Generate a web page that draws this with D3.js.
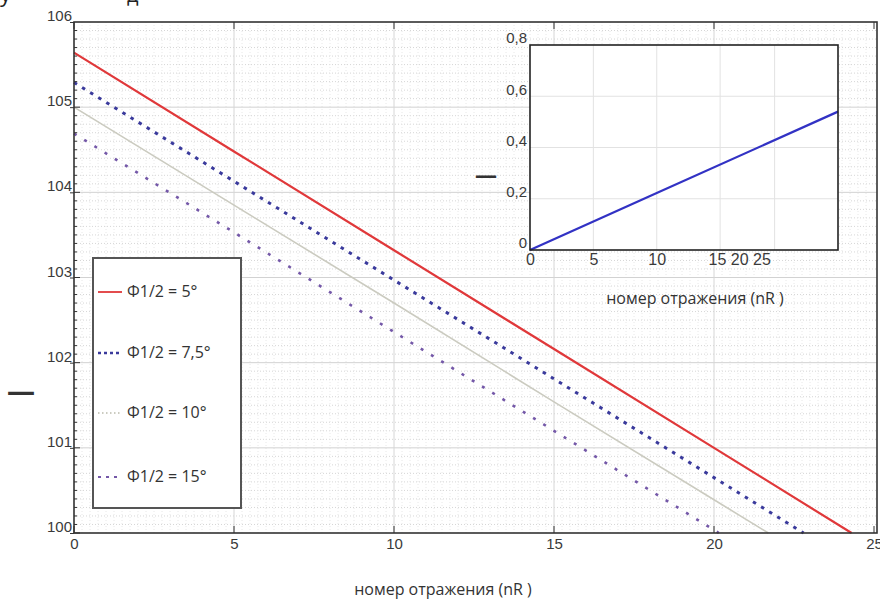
<!DOCTYPE html>
<html lang="ru">
<head>
<meta charset="UTF-8">
<title>номер отражения</title>
<script src="https://d3js.org/d3.v7.min.js"></script>
<style>
  body { margin: 0; background: #fff; font-family: "Open Sans", "Noto Sans", sans-serif; }
  svg { display: block; }
  .tick-label { font-size: 15px; fill: #3a3a3a; }
</style>
</head>
<body>
<div id="chart"></div>
<script>
// main chart data
const xTicks = [0, 5, 10, 15, 20, 25];
const yTicks = [100, 101, 102, 103, 104, 105, 106];
const seriesNames = ["Φ1/2 = 5°", "Φ1/2 = 7,5°", "Φ1/2 = 10°", "Φ1/2 = 15°"];
const nR5 = [0, 5, 10, 15, 20, 24.3];
const val5 = [105.64, 104.48, 103.32, 102.16, 101.0, 100.0];
const nR75 = [0, 5, 10, 15, 20, 22.8];
const val75 = [105.29, 104.13, 102.97, 101.81, 100.65, 100.0];
const nR10 = [0, 5, 10, 15, 20, 21.7];
const val10 = [105.0, 103.85, 102.70, 101.54, 100.39, 100.0];
const nR15 = [0, 5, 10, 15, 20.15];
const val15 = [104.69, 103.53, 102.36, 101.2, 100.0];

// inset data
const insetXTicks = [0, 5, 10, 15];
const insetXLabels = ["0", "5", "10", "15 20 25"];
const insetYTicks = [0, 0.2, 0.4, 0.6, 0.8];
const insetYLabels = ["0", "0,2", "0,4", "0,6", "0,8"];
const insetNR = [0, 10, 24.3];
const insetVal = [0, 0.222, 0.54];

const W = 880, H = 603;
const svg = d3.select("#chart").append("svg").attr("width", W).attr("height", H);

// clipped caption remains at the very top
svg.append("text").attr("x", 0).attr("y", 2).attr("font-size", 22).attr("fill", "#222").text("у");
svg.append("text").attr("x", 127).attr("y", 2).attr("font-size", 20).attr("fill", "#222").text("д");

const x = d3.scaleLinear().domain([0, 25]).range([74, 874]);
const y = d3.scaleLinear().domain([100, 106]).range([533, 22]);

// minor grid
const g = svg.append("g");
g.selectAll(".hmin").data(d3.range(1000, 1060).map(d => d / 10).filter(d => d % 1 !== 0))
  .join("line")
  .attr("x1", x(0)).attr("x2", 877)
  .attr("y1", d => y(d)).attr("y2", d => y(d))
  .attr("stroke", "#d6d6d6").attr("stroke-width", 1).attr("stroke-dasharray", "1,2");
g.selectAll(".vmin").data(d3.range(1, 100).map(d => d / 4).filter(d => d % 5 !== 0))
  .join("line")
  .attr("y1", y(106)).attr("y2", y(100))
  .attr("x1", d => x(d)).attr("x2", d => x(d))
  .attr("stroke", "#e8e8e8").attr("stroke-width", 1).attr("stroke-dasharray", "1,2");
// major grid
g.selectAll(".hmaj").data(yTicks.slice(1, -1)).join("line")
  .attr("x1", x(0)).attr("x2", 877)
  .attr("y1", d => y(d)).attr("y2", d => y(d))
  .attr("stroke", "#d2d2d2").attr("stroke-width", 1);
g.selectAll(".vmaj").data(xTicks.slice(1, -1)).join("line")
  .attr("y1", y(106)).attr("y2", y(100))
  .attr("x1", d => x(d)).attr("x2", d => x(d))
  .attr("stroke", "#d6d6d6").attr("stroke-width", 1);

// series lines
const styles = [
  { color: "#e0383a", width: 2.2, dash: null },
  { color: "#3a3a9c", width: 3, dash: "3.5,6" },
  { color: "#cbcbc0", width: 1.6, dash: null },
  { color: "#7458a8", width: 2.6, dash: "3,9" }
];
const series = [[nR5, val5], [nR75, val75], [nR10, val10], [nR15, val15]];
const line = d3.line().x(d => x(d[0])).y(d => y(d[1]));
series.forEach((s, i) => {
  svg.append("path")
    .datum(d3.zip(s[0], s[1]))
    .attr("d", line)
    .attr("fill", "none")
    .attr("stroke", styles[i].color)
    .attr("stroke-width", styles[i].width)
    .attr("stroke-dasharray", styles[i].dash);
});

// frame and axes
svg.append("rect").attr("x", x(0)).attr("y", y(106)).attr("width", 877 - x(0)).attr("height", y(100) - y(106))
  .attr("fill", "none").attr("stroke", "#333").attr("stroke-width", 1.6);

const yAxis = svg.append("g").attr("transform", `translate(${x(0)},0)`)
  .call(d3.axisLeft(y).tickValues(yTicks).tickSize(4).tickFormat(d3.format("d")));
yAxis.select(".domain").remove();
yAxis.selectAll("text").attr("class", "tick-label").attr("x", -2).attr("dy", "-0.1em");
yAxis.selectAll("line").attr("stroke", "#333");
// inner minor ticks
svg.append("g").selectAll("line").data(d3.range(1000, 1060).map(d => d / 10))
  .join("line")
  .attr("x1", x(0)).attr("x2", d => x(0) + (d % 1 === 0 ? 6 : 3))
  .attr("y1", d => y(d)).attr("y2", d => y(d))
  .attr("stroke", "#333").attr("stroke-width", 1);

const xAxis = svg.append("g").attr("transform", `translate(0,${y(100)})`)
  .call(d3.axisBottom(x).tickValues(xTicks).tickSize(0).tickPadding(5).tickFormat(d3.format("d")));
xAxis.select(".domain").remove();
xAxis.selectAll("text").attr("class", "tick-label");
// small ticks at top and bottom
svg.append("g").selectAll("line").data(xTicks).join("line")
  .attr("x1", d => x(d)).attr("x2", d => x(d))
  .attr("y1", y(100)).attr("y2", y(100) - 7).attr("stroke", "#333");
svg.append("g").selectAll("line").data(xTicks).join("line")
  .attr("x1", d => x(d)).attr("x2", d => x(d))
  .attr("y1", y(106)).attr("y2", y(106) + 7).attr("stroke", "#333");

// axis titles
svg.append("text").attr("x", 443).attr("y", 595).attr("text-anchor", "middle")
  .attr("font-size", 16).attr("fill", "#333").text("номер отражения (nR )");
svg.append("text").attr("x", 21).attr("y", 401).attr("text-anchor", "middle")
  .attr("font-size", 28).attr("font-weight", "bold").attr("fill", "#333").text("—");

// legend
const lg = svg.append("g");
lg.append("rect").attr("x", 93).attr("y", 258).attr("width", 148).attr("height", 250)
  .attr("fill", "#fff").attr("stroke", "#555").attr("stroke-width", 2);
const legendY = [292, 353, 413, 477];
const legendDash = [null, "3,3", "1.5,2.5", "3,5"];
seriesNames.forEach((name, i) => {
  lg.append("line").attr("x1", 98).attr("x2", 122).attr("y1", legendY[i]).attr("y2", legendY[i])
    .attr("stroke", styles[i].color).attr("stroke-width", i === 1 ? 2.4 : 1.8)
    .attr("stroke-dasharray", legendDash[i]);
  lg.append("text").attr("x", 127).attr("y", legendY[i] + 5)
    .attr("font-size", 16).attr("fill", "#333").text(name);
});

// inset
const ix = d3.scaleLinear().domain([0, 24.3]).range([530, 838]);
const iy = d3.scaleLinear().domain([0, 0.8]).range([250, 45]);
const ins = svg.append("g");
ins.append("rect").attr("x", 530).attr("y", 45).attr("width", 308).attr("height", 205).attr("fill", "#fff");
ins.selectAll(".ivg").data([5, 10, 15, 19.3]).join("line")
  .attr("x1", d => ix(d)).attr("x2", d => ix(d)).attr("y1", iy(0.8)).attr("y2", iy(0))
  .attr("stroke", "#e2e2e2");
ins.selectAll(".ihg").data([0.2, 0.4, 0.6]).join("line")
  .attr("y1", d => iy(d)).attr("y2", d => iy(d)).attr("x1", 530).attr("x2", 838)
  .attr("stroke", "#e2e2e2");
ins.append("path").datum(d3.zip(insetNR, insetVal))
  .attr("d", d3.line().x(d => ix(d[0])).y(d => iy(d[1])))
  .attr("fill", "none").attr("stroke", "#3232c4").attr("stroke-width", 2.2);
ins.append("rect").attr("x", 530).attr("y", 45).attr("width", 308).attr("height", 205)
  .attr("fill", "none").attr("stroke", "#222").attr("stroke-width", 1.6);

const iyAxis = ins.append("g").attr("transform", "translate(530,0)")
  .call(d3.axisLeft(iy).tickValues(insetYTicks).tickSize(0).tickPadding(3)
    .tickFormat((d, i) => insetYLabels[i]));
iyAxis.select(".domain").remove();
iyAxis.selectAll("text").attr("class", "tick-label").attr("dy", "-0.15em");

const ixAxis = ins.append("g").attr("transform", "translate(0,250)")
  .call(d3.axisBottom(ix).tickValues(insetXTicks).tickSize(0).tickPadding(4)
    .tickFormat((d, i) => insetXLabels[i]));
ixAxis.select(".domain").remove();
ixAxis.selectAll("text").attr("class", "tick-label").attr("font-size", 16).style("font-size", "16px")
  .attr("text-anchor", (d, i) => i === insetXTicks.length - 1 ? "start" : "middle")
  .attr("x", (d, i) => i === insetXTicks.length - 1 ? -12 : 0);

ins.append("text").attr("x", 695).attr("y", 304).attr("text-anchor", "middle")
  .attr("font-size", 16).attr("fill", "#333").text("номер отражения (nR )");
ins.append("text").attr("x", 486).attr("y", 183).attr("text-anchor", "middle")
  .attr("font-size", 22).attr("font-weight", "bold").attr("fill", "#333").text("—");
</script>
</body>
</html>
